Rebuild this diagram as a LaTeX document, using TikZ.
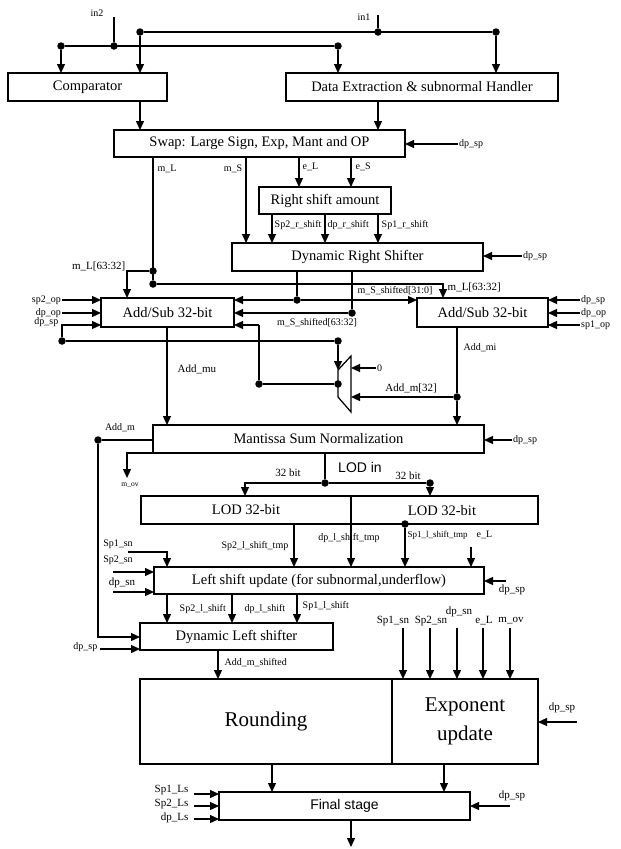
\documentclass[tikz,border=0pt]{standalone}
\usepackage{fontspec}
\setmainfont{Liberation Serif}
\newfontfamily\sanslbl{Liberation Sans}
\usetikzlibrary{arrows.meta}
\begin{document}
\begin{tikzpicture}[x=1pt,y=-1pt,
  blk/.style={draw,line width=1.3pt,inner sep=0pt,outer sep=0pt,font=\fontsize{14.5}{16}\selectfont},
  ln/.style={line width=1.25pt},
  arr/.style={line width=1.25pt,-{Triangle[length=9pt,width=8pt]}},
  dot/.style={circle,fill,inner sep=0pt,outer sep=0pt,minimum size=7.5pt},
  lbl/.style={font=\fontsize{10}{11}\selectfont,inner sep=0.5pt},
  lbln/.style={font=\fontsize{9}{10}\selectfont,inner sep=0.5pt},
  lblb/.style={font=\fontsize{11}{12}\selectfont,inner sep=0.5pt},
  lbls/.style={font=\fontsize{7.5}{8}\selectfont,inner sep=0.5pt},
  big/.style={font=\fontsize{14.5}{16}\selectfont,inner sep=0pt},
]
\useasboundingbox (0,0) rectangle (621,849);

% ---------------- boxes ----------------
\node[blk,minimum width=159pt,minimum height=28pt] (cmp) at (87.5,87) {Comparator};
\node[blk,minimum width=272pt,minimum height=28pt] (dex) at (422,87) {Data Extraction \& subnormal Handler};
\node[blk,minimum width=291pt,minimum height=27pt] (swap) at (259.5,143.5) {Swap: Large Sign, Exp, Mant and OP};
\node[blk,minimum width=132pt,minimum height=27pt] (rsa) at (325,200.5) {Right shift amount};
\node[blk,minimum width=251pt,minimum height=28pt] (drs) at (357.5,257) {Dynamic Right Shifter};
\node[blk,minimum width=133pt,minimum height=29pt] (asl) at (167.5,312.5) {Add/Sub 32-bit};
\node[blk,minimum width=131pt,minimum height=29pt] (asr) at (482.5,312.5) {Add/Sub 32-bit};
\node[blk,minimum width=331pt,minimum height=28pt] (msn) at (318.5,439) {Mantissa Sum Normalization};
\node[blk,minimum width=397pt,minimum height=28pt] (lod) at (339.5,510) {};
\node[big] (lodA) at (246,510) {LOD 32-bit};
\node[big] (lodB) at (442,511) {LOD 32-bit};
\node[blk,minimum width=330pt,minimum height=27pt] (lsu) at (319,580.5) {Left shift update (for subnormal,underflow)};
\node[blk,minimum width=193pt,minimum height=27pt] (dls) at (236.5,636.5) {Dynamic Left shifter};
\node[blk,minimum width=252pt,minimum height=85pt,font=\fontsize{21}{29}\selectfont] (rnd) at (266,721.5) {Rounding};
\node[blk,minimum width=146pt,minimum height=85pt,font=\fontsize{21}{29}\selectfont,align=center] (exu) at (465,721.5) {Exponent\\update};
\node[blk,minimum width=251pt,minimum height=28pt,font=\sanslbl\fontsize{14}{16}\selectfont] (fin) at (344.5,806) {Final stage};

% ---------------- inputs in1 / in2 ----------------
\coordinate (in2t) at (114,17);
\coordinate (in1t) at (378,15);
\node[dot] (d2a) at (61,46) {};
\node[dot] (d2b) at (114,46) {};
\node[dot] (d2c) at (338,46) {};
\node[dot] (d1a) at (140,32) {};
\node[dot] (d1b) at (378,32) {};
\node[dot] (d1c) at (496,32) {};
\node[lbl] (in2l) at (97,13) {in2};
\node[lbl] (in1l) at (364,17) {in1};
\draw[ln] (in2t) -- (d2b);
\draw[ln] (d2a) -- (d2c);
\draw[ln] (in1t) -- (d1b);
\draw[ln] (d1a) -- (d1c);
\draw[arr] (d2a) -- (d2a |- cmp.north);
\draw[arr] (d1a) -- (d1a |- cmp.north);
\draw[arr] (d2c) -- (d2c |- dex.north);
\draw[arr] (d1c) -- (d1c |- dex.north);
\draw[arr] (d1a |- cmp.south) -- (d1a |- swap.north);
\draw[arr] (d1b |- dex.south) -- (d1b |- swap.north);

% ---------------- swap ----------------
\coordinate (swdp) at (458,144);
\draw[arr] (swdp) node[lbl,right] {dp\_sp} -- (swdp -| swap.east);
\coordinate (xmS) at (246,0);
\coordinate (xeL) at (299,0);
\coordinate (xeS) at (351,0);
\node[dot] (dmL1) at (153,271) {};
\node[dot] (dmL2) at (153,284) {};
\draw[ln] (dmL1 |- swap.south) -- (dmL2);
\node[lbl,anchor=west] at (157,169) {m\_L};
\draw[arr] (xmS |- swap.south) -- (xmS |- drs.north);
\node[lbl,anchor=east] at (243,169) {m\_S};
\draw[arr] (xeL |- swap.south) -- (xeL |- rsa.north);
\node[lbl,anchor=west] at (302,167) {e\_L};
\draw[arr] (xeS |- swap.south) -- (xeS |- rsa.north);
\node[lbl,anchor=west] at (355,167) {e\_S};

% ---------------- right shift amount ----------------
\coordinate (xr1) at (272,0);
\coordinate (xr2) at (325,0);
\coordinate (xr3) at (378,0);
\draw[arr] (xr1 |- rsa.south) -- (xr1 |- drs.north);
\draw[arr] (xr2 |- rsa.south) -- (xr2 |- drs.north);
\draw[arr] (xr3 |- rsa.south) -- (xr3 |- drs.north);
\node[lbl,anchor=west] at (274,225) {Sp2\_r\_shift};
\node[lbl,anchor=west] at (327,225) {dp\_r\_shift};
\node[lbl,anchor=west] at (381,225) {Sp1\_r\_shift};
\coordinate (drsdp) at (522,256);
\draw[arr] (drsdp) node[lbl,right] {dp\_sp} -- (drsdp -| drs.east);

% ---------------- m_L branches ----------------
\coordinate (mLc) at (127,271);
\draw[arr] (dmL1) -- (mLc) -- (mLc |- asl.north);
\node[lblb,anchor=east] at (126,266) {m\_L[63:32]};
\coordinate (mLr) at (443,284);
\draw[arr] (dmL2) -- (mLr) -- (mLr |- asr.north);
\node[lblb,anchor=west] at (447,287) {m\_L[63:32]};

% ---------------- shifter outputs ----------------
\node[dot] (ms0) at (297,300) {};
\node[dot] (ms1) at (352,313) {};
\draw[ln] (ms0 |- drs.south) -- (ms0);
\draw[ln] (ms1 |- drs.south) -- (ms1);
\draw[arr] (ms0) -- (ms0 -| asl.east);
\draw[arr] (ms0) -- (ms0 -| asr.west);
\draw[arr] (ms1) -- (ms1 -| asl.east);
\node[lbl] at (395,291) {m\_S\_shifted[31:0]};
\node[lbl] at (317,323) {m\_S\_shifted[63:32]};

% ---------------- left add/sub inputs ----------------
\coordinate (sp2op) at (62,300);
\coordinate (dpop) at (62,313);
\coordinate (dpsL) at (62,325);
\draw[arr] (sp2op) node[lbl,left] {sp2\_op} -- (sp2op -| asl.west);
\draw[arr] (dpop) node[lbl,left] {dp\_op} -- (dpop -| asl.west);
\node[lbl,anchor=east] at (59,322) {dp\_sp};
\node[dot] (dpl) at (62,341) {};
\draw[arr] (dpl) -- (dpsL) -- (dpsL -| asl.west);

% ---------------- mux ----------------
\coordinate (mxTL) at (338,370);
\coordinate (mxTR) at (351,356);
\coordinate (mxBR) at (351,412);
\coordinate (mxBL) at (338,397);
\draw[ln] (mxTL) -- (mxTR) -- (mxBR) -- (mxBL) -- cycle;
\node[dot] (dps2) at (338,341) {};
\draw[ln] (dpl) -- (dps2);
\draw[arr] (dps2) -- (mxTL);
\node[dot] (mxo) at (338,384) {};
\node[dot] (mxc) at (259,384) {};
\coordinate (mxin) at (259,325);
\draw[ln] (mxo) -- (mxc) -- (mxin);
\draw[arr] (mxin) -- (mxin -| asl.east);
\coordinate (zero) at (376,368);
\draw[arr] (zero) node[lbl,right] {0} -- (zero -| mxTR);

% ---------------- right add/sub ----------------
\coordinate (rdp) at (580,300);
\coordinate (rdo) at (580,313);
\coordinate (rsp) at (580,325);
\draw[arr] (rdp) node[lbl,right] {dp\_sp} -- (rdp -| asr.east);
\draw[arr] (rdo) node[lbl,right] {dp\_op} -- (rdo -| asr.east);
\draw[arr] (rsp) node[lbl,right] {sp1\_op} -- (rsp -| asr.east);
\node[dot] (am32) at (457,397) {};
\draw[ln] (am32 |- asr.south) -- (am32);
\draw[arr] (am32) -- (am32 |- msn.north);
\node[lbl,anchor=west] at (463,348) {Add\_mi};
\draw[arr] (am32) -- (am32 -| mxBR);
\node[lblb] at (411,388) {Add\_m[32]};
\coordinate (xmu) at (167,0);
\draw[arr] (xmu |- asl.south) -- (xmu |- msn.north);
\node[lblb,anchor=west] at (177,369) {Add\_mu};

% ---------------- mantissa normalisation ----------------
\coordinate (msdp) at (512,440);
\draw[arr] (msdp) node[lbl,right] {dp\_sp} -- (msdp -| msn.east);
\node[dot] (dam) at (98,440) {};
\draw[ln] (dam -| msn.west) -- (dam);
\node[lbl] at (120,428) {Add\_m};
\coordinate (amb) at (98,637);
\draw[arr] (dam) -- (amb) -- (amb -| dls.west);
\coordinate (movA) at (153,453);
\coordinate (movB) at (127,453);
\coordinate (movC) at (127,478);
\draw[arr] (movA) -- (movB) -- (movC);
\node[lbls] at (130,485) {m\_ov};
\node[dot] (lodin) at (325,483) {};
\draw[ln] (lodin |- msn.south) -- (lodin);
\node[font=\sanslbl\fontsize{14}{16}\selectfont,inner sep=0pt] at (360,467) {LOD in};
\coordinate (lodL) at (245,483);
\node[dot] (lodR) at (430,483) {};
\draw[arr] (lodin) -- (lodL) -- (lodL |- lod.north);
\draw[ln] (lodin) -- (lodR);
\draw[arr] (lodR) -- (lodR |- lod.north);
\node[lblb] at (288,473) {32 bit};
\node[lblb] at (408,476) {32 bit};

% ---------------- LOD outputs ----------------
\coordinate (dpt) at (351,496);
\draw[arr] (dpt) -- (dpt |- lsu.north);
\coordinate (xs2) at (294,0);
\draw[arr] (xs2 |- lod.south) -- (xs2 |- lsu.north);
\node[dot] (ds1) at (405,524) {};
\draw[arr] (ds1) -- (ds1 |- lsu.north);
\node[lbl,anchor=east] at (289,546) {Sp2\_l\_shift\_tmp};
\node[lbl] at (349,538) {dp\_l\_shift\_tmp};
\node[lbln,anchor=west] at (407,535) {Sp1\_l\_shift\_tmp};
\coordinate (eLt) at (471,547);
\draw[arr] (eLt) -- (eLt |- lsu.north);
\node[lbl,anchor=west] at (476,535) {e\_L};

% ---------------- left shift update ----------------
\coordinate (lsdp) at (506,581);
\draw[arr] (lsdp) -- (lsdp -| lsu.east);
\node[lblb] at (512,590) {dp\_sp};
\coordinate (s1a) at (128,552);
\coordinate (s1b) at (167,552);
\draw[arr] (s1a) -- (s1b) -- (s1b |- lsu.north);
\node[lbl] at (118,544) {Sp1\_sn};
\coordinate (s2a) at (113,572);
\draw[arr] (s2a) -- (s2a -| lsu.west);
\node[lbl] at (118,560) {Sp2\_sn};
\coordinate (dsa) at (113,592);
\draw[arr] (dsa) -- (dsa -| lsu.west);
\node[lblb] at (122,583) {dp\_sn};
\coordinate (xl1) at (167,0);
\coordinate (xl2) at (232,0);
\coordinate (xl3) at (297,0);
\draw[arr] (xl1 |- lsu.south) -- (xl1 |- dls.north);
\draw[arr] (xl2 |- lsu.south) -- (xl2 |- dls.north);
\draw[arr] (xl3 |- lsu.south) -- (xl3 |- dls.north);
\node[lbl,anchor=west] at (179,609) {Sp2\_l\_shift};
\node[lbl,anchor=west] at (244,609) {dp\_l\_shift};
\node[lbl,anchor=west] at (302,606) {Sp1\_l\_shift};

% ---------------- dynamic left shifter ----------------
\coordinate (dldp) at (100,649);
\draw[arr] (dldp) -- (dldp -| dls.west);
\node[lbl,anchor=east] at (98,647) {dp\_sp};
\coordinate (xam) at (218,0);
\draw[arr] (xam |- dls.south) -- (xam |- rnd.north);
\node[lbl,anchor=west] at (224,663) {Add\_m\_shifted};

% ---------------- exponent update inputs ----------------
\coordinate (ei1) at (403,628);
\coordinate (ei2) at (430,628);
\coordinate (ei3) at (457,628);
\coordinate (ei4) at (483,628);
\coordinate (ei5) at (510,628);
\draw[arr] (ei1) -- (ei1 |- exu.north);
\draw[arr] (ei2) -- (ei2 |- exu.north);
\draw[arr] (ei3) -- (ei3 |- exu.north);
\draw[arr] (ei4) -- (ei4 |- exu.north);
\draw[arr] (ei5) -- (ei5 |- exu.north);
\node[lblb] at (393,621) {Sp1\_sn};
\node[lblb] at (431,621) {Sp2\_sn};
\node[lblb] at (459,612) {dp\_sn};
\node[lblb] at (484,621) {e\_L};
\node[lblb] at (511,621) {m\_ov};
\coordinate (exdp) at (577,722);
\draw[arr] (exdp) -- (exdp -| exu.east);
\node[lblb] at (562,708) {dp\_sp};

% ---------------- final stage ----------------
\coordinate (xro) at (272,0);
\coordinate (xeo) at (444,0);
\draw[arr] (xro |- rnd.south) -- (xro |- fin.north);
\draw[arr] (xeo |- exu.south) -- (xeo |- fin.north);
\coordinate (fl1) at (194,794);
\coordinate (fl2) at (194,806);
\coordinate (fl3) at (194,819);
\draw[arr] (fl1) -- (fl1 -| fin.west);
\draw[arr] (fl2) -- (fl2 -| fin.west);
\draw[arr] (fl3) -- (fl3 -| fin.west);
\node[lblb,anchor=east] at (189,790) {Sp1\_Ls};
\node[lblb,anchor=east] at (189,804) {Sp2\_Ls};
\node[lblb,anchor=east] at (189,818) {dp\_Ls};
\coordinate (fdp) at (510,806);
\draw[arr] (fdp) -- (fdp -| fin.east);
\node[lblb] at (512,796) {dp\_sp};
\coordinate (fout) at (351,847);
\draw[arr] (fout |- fin.south) -- (fout);
\end{tikzpicture}
\end{document}
